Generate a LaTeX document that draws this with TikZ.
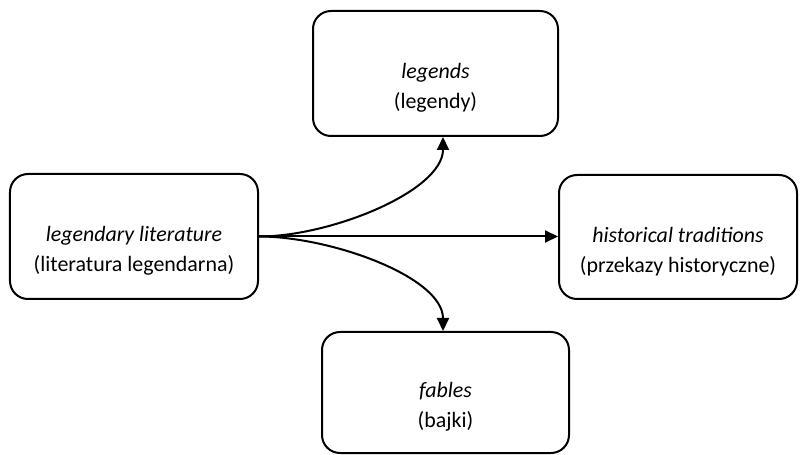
\documentclass[tikz,border=0pt]{standalone}
\usepackage{fontspec}
\setmainfont{Carlito}
\usetikzlibrary{arrows.meta,positioning}
\newcommand\toppad{\rule{0pt}{44bp}}
\tikzset{
  box/.style={draw, line width=2bp, rounded corners=18bp, align=center,
    inner sep=0pt, font=\fontsize{22}{30}\selectfont},
  link/.style={line width=2bp, -{Triangle[length=13bp,width=12bp]}}
}
\begin{document}
\begin{tikzpicture}[x=1bp,y=-1bp]
\useasboundingbox (0,0) rectangle (800,455);
\node[box, minimum width=248bp, minimum height=125bp] (lit) at (134,236.5) {\toppad\textit{legendary literature}\\(literatura legendarna)};
\node[box, minimum width=245bp, minimum height=125bp] (leg) at (435.5,73.5) {\toppad\textit{legends}\\(legendy)};
\node[box, minimum width=238bp, minimum height=124bp] (his) at (678,237) {\toppad\textit{historical traditions}\\(przekazy historyczne)};
\node[box, minimum width=247bp, minimum height=121bp] (fab) at (445.5,392.5) {\toppad\textit{fables}\\(bajki)};
\coordinate (legin) at ([xshift=7.5bp]leg.south);
\coordinate (fabin) at ([xshift=-2.5bp]fab.north);
\draw[link] (lit.east) -- (lit.east -| his.west);
\draw[link] (lit.east) .. controls +(72,0) and +(0,54) .. (legin);
\draw[link] (lit.east) .. controls +(72,0) and +(0,-54) .. (fabin);
\end{tikzpicture}
\end{document}
